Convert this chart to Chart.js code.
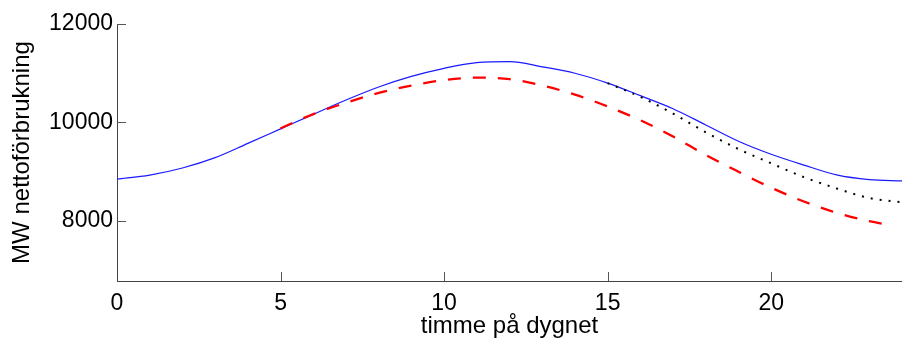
<!DOCTYPE html>
<html lang="sv">
<head>
    <meta charset="UTF-8">
    <title>Nettoförbrukning</title>
    <style>
        body { margin: 0; background: #fff; }
        #wrap { width: 902px; height: 341px; position: relative; }
    </style>
    <script src="https://cdn.jsdelivr.net/npm/chart.js"></script>
</head>
<body>
    <div id="wrap"><canvas id="myChart"></canvas></div>
    <script>
        // timme på dygnet
        const hours = [0, 1, 2, 3, 4, 5, 6, 7, 8, 9, 10, 11, 12, 13, 14, 15, 16, 17, 18, 19, 20, 21, 22, 23, 24];
        const blueLoad = [8850, 8930, 9075, 9285, 9575, 9870, 10165, 10455, 10720, 10935, 11100, 11215, 11235, 11130, 11000, 10800, 10545, 10280, 9950, 9620, 9355, 9135, 8935, 8840, 8815];

        const redHours = [5, 6, 7, 8, 9, 10, 11, 12, 13, 14, 15, 16, 17, 18, 19, 20, 21, 22, 23, 23.6];
        const redLoad = [9880, 10170, 10400, 10600, 10750, 10860, 10910, 10880, 10750, 10565, 10325, 10045, 9715, 9340, 9000, 8675, 8395, 8165, 7995, 7920];

        const blackHours = [15, 16, 17, 18, 19, 20, 21, 22, 23, 24];
        const blackLoad = [10800, 10520, 10180, 9800, 9460, 9170, 8890, 8660, 8465, 8380];

        const xTicks = [0, 5, 10, 15, 20];
        const yTicks = [8000, 10000, 12000];

        const FONT = "'Liberation Sans', Arial, sans-serif";

        function toPoints(xs, ys) {
            return xs.map((x, i) => ({ x: x, y: ys[i] }));
        }

        // matlab-style ticks pointing into the plot
        const innerTicks = {
            id: 'innerTicks',
            beforeDatasetsDraw(chart) {
                const { ctx, chartArea, scales } = chart;
                ctx.save();
                ctx.strokeStyle = '#555';
                ctx.lineWidth = 1;
                ctx.beginPath();
                xTicks.forEach(v => {
                    if (v === 0) return;
                    const px = Math.round(scales.x.getPixelForValue(v)) + 0.5;
                    ctx.moveTo(px, chartArea.bottom);
                    ctx.lineTo(px, chartArea.bottom - 9);
                });
                yTicks.forEach(v => {
                    const py = Math.round(scales.y.getPixelForValue(v)) + 0.5;
                    ctx.moveTo(chartArea.left, py);
                    ctx.lineTo(chartArea.left + 9, py);
                });
                ctx.stroke();
                ctx.restore();
            }
        };

        const ctx = document.getElementById('myChart').getContext('2d');
        new Chart(ctx, {
            type: 'line',
            data: {
                datasets: [
                    {
                        data: toPoints(hours, blueLoad),
                        borderColor: '#1a1aff',
                        borderWidth: 1.2,
                        pointRadius: 0,
                        cubicInterpolationMode: 'monotone',
                        order: 3
                    },
                    {
                        data: toPoints(redHours, redLoad),
                        borderColor: '#ff0000',
                        borderWidth: 2.3,
                        borderDash: [13, 12],
                        pointRadius: 0,
                        cubicInterpolationMode: 'monotone',
                        order: 2
                    },
                    {
                        data: toPoints(blackHours, blackLoad),
                        borderColor: '#000',
                        borderWidth: 2,
                        borderDash: [2, 7],
                        pointRadius: 0,
                        cubicInterpolationMode: 'monotone',
                        order: 1
                    }
                ]
            },
            options: {
                responsive: true,
                maintainAspectRatio: false,
                animation: false,
                layout: { padding: { top: 24, right: -3, left: 0, bottom: 0 } },
                plugins: {
                    legend: { display: false },
                    tooltip: { enabled: false }
                },
                scales: {
                    x: {
                        type: 'linear',
                        min: 0,
                        max: 24,
                        afterBuildTicks: s => { s.ticks = xTicks.map(v => ({ value: v })); },
                        afterFit: s => { s.height = 60; },
                        grid: { display: false, drawTicks: false },
                        border: { display: true, color: '#444', width: 1 },
                        ticks: {
                            color: '#000',
                            padding: 9,
                            maxRotation: 0,
                            callback: v => String(v),
                            font: { family: FONT, size: 23 }
                        },
                        title: {
                            display: true,
                            text: 'timme på dygnet',
                            color: '#000',
                            padding: { top: 0, bottom: 0 },
                            font: { family: FONT, size: 24 }
                        }
                    },
                    y: {
                        min: 6780,
                        max: 12000,
                        afterBuildTicks: s => { s.ticks = yTicks.map(v => ({ value: v })); },
                        afterFit: s => { s.width = 117; },
                        grid: { display: false, drawTicks: false },
                        border: { display: true, color: '#444', width: 1 },
                        ticks: {
                            color: '#000',
                            padding: 4,
                            callback: v => String(v),
                            font: { family: FONT, size: 23 }
                        },
                        title: {
                            display: true,
                            text: 'MW nettoförbrukning',
                            color: '#000',
                            padding: { top: 8, bottom: 0 },
                            font: { family: FONT, size: 24 }
                        }
                    }
                }
            },
            plugins: [innerTicks]
        });
    </script>
</body>
</html>
